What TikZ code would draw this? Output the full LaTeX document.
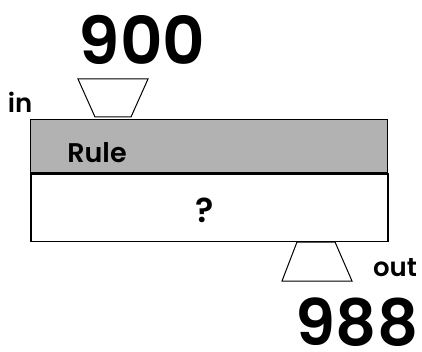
\documentclass[tikz,border=0pt]{standalone}
\usepackage{fontspec}
\setmainfont{Poppins}[BoldFont=* SemiBold]
\begin{document}
\begin{tikzpicture}[x=1pt,y=-1pt,
  lbl/.style={font=\bfseries, inner sep=0pt, text=black},
  funnel/.style={draw=black, fill=white, line width=1pt, line join=miter}]
\useasboundingbox (0,0) rectangle (422,352);
\node[draw=black, fill=black!30, line width=1pt, minimum width=357pt, minimum height=53pt, inner sep=0pt, anchor=north west] (rule) at (30,119) {};
\node[draw=black, fill=white, line width=1.6pt, minimum width=357pt, minimum height=67pt, inner sep=0pt, anchor=north west] (box) at (30,173.5) {};
\draw[funnel] (78,79) -- (148,79) -- (131,117) -- (95,117) -- cycle;
\draw[funnel] (297,242) -- (335,242) -- (352,281) -- (282,281) -- cycle;
\node[lbl, font=\fontsize{66}{66}\selectfont\bfseries] (n900) at (142,40) {900};
\node[lbl, font=\fontsize{26}{26}\selectfont\bfseries] (in) at (20,102) {in};
\node[lbl, font=\fontsize{27}{27}\selectfont\bfseries] (ruletext) at (97,153) {Rule};
\node[lbl, font=\fontsize{34}{34}\selectfont\bfseries] (q) at (205,210) {?};
\node[lbl, font=\fontsize{26}{26}\selectfont\bfseries] (out) at (395,268) {out};
\node[lbl, font=\fontsize{64}{64}\selectfont\bfseries] (n988) at (357,322) {988};
\end{tikzpicture}
\end{document}
